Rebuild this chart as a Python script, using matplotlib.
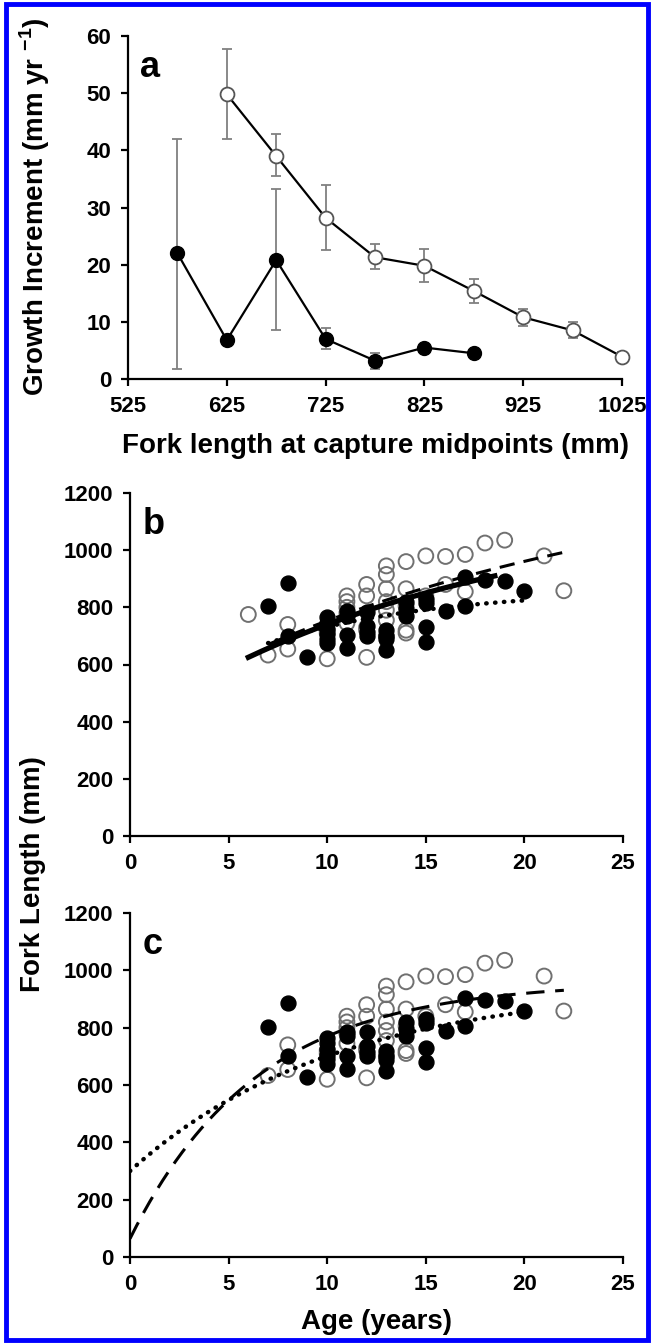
import numpy as np
import matplotlib
matplotlib.use('Agg')
import matplotlib.pyplot as plt
from matplotlib.patches import Rectangle

plt.rcParams['font.family'] = ['Liberation Sans', 'DejaVu Sans']
plt.rcParams['font.weight'] = 'bold'
plt.rcParams['mathtext.fontset'] = 'custom'
plt.rcParams['mathtext.rm'] = 'Liberation Sans:bold'
plt.rcParams['mathtext.bf'] = 'Liberation Sans:bold'

# panel a - growth increment by fork length class
open_mid = [625, 675, 725, 775, 825, 875, 925, 975, 1025]
open_inc = [49.8, 39.0, 28.2, 21.3, 19.8, 15.4, 10.8, 8.5, 3.9]
open_lo = [42.0, 35.5, 22.5, 19.2, 17.0, 13.3, 9.3, 7.2, 3.0]
open_hi = [57.7, 42.8, 34.0, 23.6, 22.8, 17.5, 12.3, 10.0, 4.8]

fill_mid = [575, 625, 675, 725, 775, 825, 875]
fill_inc = [22.0, 6.8, 20.8, 7.0, 3.2, 5.5, 4.5]
fill_lo = [1.8, 6.0, 8.5, 5.2, 1.8, 5.5, 4.5]
fill_hi = [42.0, 7.5, 33.2, 9.0, 4.6, 5.5, 4.5]

# panels b, c - fork length at age
open_age = [7, 8, 8, 10, 10, 10, 11, 11, 11, 11, 11, 12, 12, 12, 12, 12,
            13, 13, 13, 13, 13, 13, 13, 14, 14, 14, 14, 14, 15, 15, 16, 16,
            17, 17, 18, 19, 21, 22]
open_fl = [633, 740, 654, 720, 710, 620, 840, 820, 800, 780, 745, 880, 840, 730, 720, 625,
           945, 915, 865, 820, 790, 755, 700, 960, 865, 805, 720, 710, 980, 840, 978, 880,
           985, 855, 1025, 1035, 980, 858]
extra_b_age = [6]
extra_b_fl = [775]

fill_age = [7, 8, 8, 9, 10, 10, 10, 10, 10, 10, 11, 11, 11, 11, 12, 12, 12, 12,
            13, 13, 13, 13, 14, 14, 14, 15, 15, 15, 15, 16, 17, 17, 18, 19, 20]
fill_fl = [804, 886, 700, 627, 765, 745, 725, 705, 690, 675, 786, 770, 702, 656, 785, 735, 715, 700,
           720, 700, 688, 650, 820, 795, 770, 830, 815, 730, 680, 788, 905, 805, 895, 893, 858]

# von Bertalanffy fits: (Linf, k, t0, age from, age to)
b_solid = (1165, 0.06, -6.82, 6, 18.5)
b_dashed = (1327, 0.045, -8.62, 7, 22)
b_dotted = (864, 0.12, -5.66, 7, 20)
c_dashed = (960, 0.155, -0.445, 0, 22)
c_dotted = (950, 0.096, -3.95, 0, 20)


def vb(p):
    linf, k, t0, a, b = p
    t = np.linspace(a, b, 200)
    return t, linf * (1 - np.exp(-k * (t - t0)))


fig = plt.figure(figsize=(6.54, 13.43), dpi=100)
W, H = 654, 1343


def box(x0, y_top, x1, y_bot):
    return [x0 / W, 1 - y_bot / H, (x1 - x0) / W, (y_bot - y_top) / H]


def style(ax):
    for s in ['top', 'right']:
        ax.spines[s].set_visible(False)
    for s in ['left', 'bottom']:
        ax.spines[s].set_linewidth(1.6)
    ax.tick_params(direction='out', length=5, width=1.6, labelsize=16, pad=7)
    for lab in ax.get_xticklabels() + ax.get_yticklabels():
        lab.set_fontweight('bold')


# ---- a
ax = fig.add_axes(box(128, 36, 622, 379))
ax.errorbar(open_mid, open_inc,
            yerr=[np.subtract(open_inc, open_lo), np.subtract(open_hi, open_inc)],
            fmt='none', ecolor='#808080', elinewidth=1.3, capsize=3.5, capthick=1.3, zorder=1)
ax.errorbar(fill_mid, fill_inc,
            yerr=[np.subtract(fill_inc, fill_lo), np.subtract(fill_hi, fill_inc)],
            fmt='none', ecolor='#808080', elinewidth=1.3, capsize=3.5, capthick=1.3, zorder=1)
ax.plot(open_mid, open_inc, '-o', color='black', lw=1.6, ms=10,
        mfc='white', mec='#555555', mew=1.3, zorder=3, clip_on=False)
ax.plot(fill_mid, fill_inc, '-o', color='black', lw=1.6, ms=10,
        mfc='black', mec='black', zorder=3)
ax.set_xlim(525, 1025)
ax.set_ylim(0, 60)
ax.set_xticks(range(525, 1026, 100))
ax.set_yticks(range(0, 61, 10))
style(ax)
ax.set_xlabel('Fork length at capture midpoints (mm)', fontsize=20, fontweight='bold', labelpad=12)
ax.text(0.025, 0.96, 'a', transform=ax.transAxes, fontsize=26, fontweight='bold', va='top')
fig.text(35 / W, 1 - 207 / H, r'Growth Increment (mm yr $^{\mathbf{-1}}$)', rotation=90,
         fontsize=20, fontweight='bold', ha='center', va='center')


def scatter_panel(ax, ages_o, fls_o):
    ax.scatter(ages_o, fls_o, s=115, facecolors='none', edgecolors='#707070', linewidths=1.4, zorder=2)
    ax.scatter(fill_age, fill_fl, s=115, facecolors='black', edgecolors='black', zorder=3)
    ax.set_xlim(0, 25)
    ax.set_ylim(0, 1200)
    ax.set_xticks(range(0, 26, 5))
    ax.set_yticks(range(0, 1201, 200))
    style(ax)


# ---- b
ax = fig.add_axes(box(130, 493, 623, 836))
scatter_panel(ax, open_age + extra_b_age, open_fl + extra_b_fl)
t, l = vb(b_dashed)
ax.plot(t, l, color='black', lw=2.2, ls=(0, (5, 3)), zorder=4)
t, l = vb(b_dotted)
ax.plot(t, l, color='black', lw=3.2, ls=(0, (0.1, 1.9)), dash_capstyle='round', zorder=4)
t, l = vb(b_solid)
ax.plot(t, l, color='black', lw=3.8, zorder=5)
ax.text(0.025, 0.96, 'b', transform=ax.transAxes, fontsize=26, fontweight='bold', va='top')

# ---- c
ax = fig.add_axes(box(130, 913, 623, 1257))
scatter_panel(ax, open_age, open_fl)
t, l = vb(c_dashed)
ax.plot(t, l, color='black', lw=2.2, ls=(0, (6, 3.5)), zorder=4)
t, l = vb(c_dotted)
ax.plot(t, l, color='black', lw=3.2, ls=(0, (0.1, 1.9)), dash_capstyle='round', zorder=4)
ax.text(0.025, 0.96, 'c', transform=ax.transAxes, fontsize=26, fontweight='bold', va='top')
ax.set_xlabel('Age (years)', fontsize=20, fontweight='bold', labelpad=10)

fig.text(33 / W, 1 - 874 / H, 'Fork Length (mm)', rotation=90, fontsize=20,
         fontweight='bold', ha='center', va='center')

# blue frame round the figure
fig.patches.append(Rectangle((6 / W, 3 / H), 642 / W, 1336 / H, transform=fig.transFigure,
                             fill=False, edgecolor='#0000ff', linewidth=3.5, zorder=10))

fig.savefig('out.png', dpi=100, facecolor='white')
